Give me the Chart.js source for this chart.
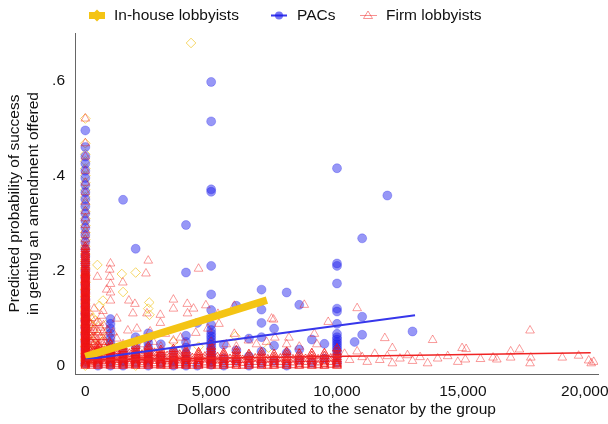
<!DOCTYPE html>
<html><head><meta charset="utf-8">
<script src="https://cdn.jsdelivr.net/npm/chart.js@4/dist/chart.umd.min.js"></script>
<style>html,body{margin:0;padding:0;background:#fff;}#wrap{width:608px;height:424px;}</style>
</head><body><div id="wrap"><canvas id="c" width="608" height="424"></canvas></div>
<script>
// ---------------- DATA ----------------
const seriesNames = ['In-house lobbyists', 'PACs', 'Firm lobbyists'];
const xTickValues = [0, 5000, 10000, 15000, 20000];
const xTickLabels = ['0', '5,000', '10,000', '15,000', '20,000'];
const yTickValues = [0, 0.2, 0.4, 0.6];
const yTickLabels = ['0', '.2', '.4', '.6'];
const xTitle = 'Dollars contributed to the senator by the group';
const yTitle = ['Predicted probability of success', 'in getting an amendment offered'];

// In-house lobbyists (diamonds)
const inHouseZeroY = [0.52,0.468,0.445,0.43,0.415,0.4,0.385,0.37,0.355,0.34,0.325,0.31,0.295,0.28,0.265,0.25,0.235,0.22,0.205,0.19,0.175,0.16,0.145,0.13,0.115,0.1,0.085,0.07,0.055,0.04,0.025,0.01,0];
const inHousePoints = [[4200,0.679],[480,0.212],[1450,0.193],[2000,0.196],[1500,0.155],[700,0.137],[560,0.126],[2540,0.133],[2500,0.12],[2550,0.107],[400,0.095],[300,0.075],[500,0.062],[250,0.05],[800,0.085],[1000,0.045],[150,0.11],[200,0.088],[5960,0.062],[7280,0.038],[3000,0.022],[1200,0.03],[600,0.028],[2000,0.015],[1500,0.01],[4000,0.012],[100,0.035],[350,0.042],[5000,0.008],[2500,0.032],[6500,0.02],[3500,0.05],[4500,0.04],[150,0.02],[250,0.015],[400,0.01],[1000,0.005],[2000,0],[3000,0.005],[700,0.05],[900,0.065],[100,0.06],[300,0.1]];
const inHouseFitX = [0, 7215];
const inHouseFitY = [0.019, 0.138];

// PACs (circles)
const pacZeroY = [0.495,0.46,0.44,0.425,0.41,0.395,0.38,0.365,0.35,0.335,0.32,0.305,0.29,0.275,0.26,0.245,0.23,0.215,0.2,0.185,0.17,0.155,0.14,0.125,0.11,0.095,0.08,0.065,0.05,0.035,0.02,0.005];
const pacColumns = [
  [500, [0.02, 0]],
  [1000, [0.098,0.088,0.078,0.068,0.058,0.048,0.038,0.028,0.018,0.008,0]],
  [1500, [0.349,0.03,0.01,0]],
  [2000, [0.246,0.06,0.04,0.02,0.005]],
  [2500, [0.068,0.058,0.048,0.038,0.025,0.012,0]],
  [3000, [0.045,0.02,0.005]],
  [3500, [0.03,0.01,0]],
  [4000, [0.296,0.196,0.063,0.05,0.038,0.025,0.012,0]],
  [4450, [0.09,0]],
  [5000, [0.597,0.514,0.371,0.366,0.21,0.15,0.117,0.086,0.075,0.068,0.062,0.056,0.05,0.044,0.038,0.032,0.026,0.02,0.014,0.008,0.002]],
  [5500, [0.044,0.015,0]],
  [6000, [0.126,0.032,0.01]],
  [6500, [0.057,0.02,0]],
  [7000, [0.16,0.118,0.09,0.06,0.03,0.005]],
  [7500, [0.078,0.042,0.01]],
  [8000, [0.154,0.027,0]],
  [8500, [0.128,0.034,0.012]],
  [9000, [0.055,0.006]],
  [9500, [0.046,0.015]],
  [10000, [0.4155,0.215,0.21,0.173,0.12,0.114,0.088,0.067,0.06,0.055,0.05,0.045,0.04,0.035,0.03,0.02,0.006]],
  [10700, [0.05]],
  [11000, [0.268,0.103,0.065]],
  [12000, [0.358]],
  [13000, [0.072]]
];
const pacFitX = [0, 13100];
const pacFitY = [0.013, 0.106];

// Firm lobbyists (triangles)
// zero-dollar column: the dense lower part (each listed value stands for firmZeroCount firms) and the sparse upper part
const firmZeroCount = 3;
const firmZeroDenseY = [0,0.0025,0.005,0.0075,0.01,0.0125,0.015,0.0175,0.02,0.0225,0.025,0.0275,0.03,0.0325,0.035,0.0375,0.04,0.0425,0.045,0.0475,0.05,0.0525,0.055,0.0575,0.06,0.0625,0.065,0.0675,0.07,0.0725,0.075,0.0775,0.08,0.0825,0.085,0.0875,0.09,0.0925,0.095,0.0975,0.1,0.1025,0.105,0.1075,0.11,0.1125,0.115,0.1175,0.12,0.1225,0.125,0.1275,0.13,0.1325,0.135,0.1375,0.14,0.1425,0.145,0.1475,0.15,0.1525,0.155,0.1575,0.16,0.1625,0.165,0.1675,0.17,0.1725,0.175,0.1775,0.18,0.1825,0.185,0.1875,0.19,0.1925,0.195,0.1975,0.2,0.204,0.208,0.212,0.216,0.22,0.224,0.228,0.232,0.236,0.24,0.245,0.25];
const firmZeroSparseY = [0.258,0.266,0.275,0.285,0.296,0.31,0.325,0.345,0.365,0.385,0.41,0.44,0.468,0.52];
// [dollars, count of firms per listed value, predicted values]
const firmBandColumns = [
  [250, 2, [0,0.004,0.008,0.012,0.017,0.022,0.027,0.033]],
  [500, 3, [0,0.003,0.006,0.009,0.012,0.015,0.018,0.021,0.024,0.028,0.032,0.036,0.042]],
  [750, 2, [0.001,0.005,0.009,0.013,0.018,0.023,0.029]],
  [1000, 3, [0,0.003,0.006,0.009,0.012,0.015,0.018,0.021,0.025,0.029,0.033,0.038,0.044]],
  [1250, 2, [0,0.004,0.008,0.012,0.016,0.021,0.026,0.031]],
  [1500, 3, [0,0.003,0.006,0.009,0.012,0.015,0.018,0.022,0.026,0.03,0.035,0.04]],
  [1750, 2, [0.001,0.005,0.009,0.014,0.019,0.025]],
  [2000, 3, [0,0.003,0.006,0.009,0.012,0.015,0.019,0.023,0.027,0.031,0.036,0.041]],
  [2250, 2, [0,0.004,0.008,0.012,0.017,0.023]],
  [2500, 3, [0,0.003,0.006,0.009,0.012,0.015,0.018,0.022,0.026,0.03,0.035,0.04]],
  [2750, 2, [0.001,0.005,0.01,0.015,0.021,0.027]],
  [3000, 3, [0,0.003,0.006,0.009,0.012,0.016,0.02,0.024,0.028,0.033]],
  [3250, 2, [0,0.004,0.009,0.014,0.02]],
  [3500, 3, [0,0.003,0.006,0.009,0.013,0.017,0.021,0.025,0.03,0.035]],
  [3750, 2, [0.001,0.006,0.011,0.017,0.023]],
  [4000, 3, [0,0.003,0.006,0.01,0.014,0.018,0.022,0.027,0.032]],
  [4250, 2, [0,0.005,0.01,0.016]],
  [4500, 3, [0,0.003,0.006,0.01,0.014,0.018,0.023,0.028]],
  [4750, 2, [0.002,0.007,0.013,0.019]],
  [5000, 3, [0,0.003,0.006,0.009,0.012,0.016,0.02,0.024,0.029,0.034,0.04]],
  [5250, 2, [0,0.005,0.011,0.018]],
  [5500, 3, [0,0.004,0.008,0.012,0.017,0.022,0.027]],
  [5750, 2, [0.002,0.008,0.014]],
  [6000, 3, [0,0.004,0.008,0.012,0.016,0.021,0.026,0.032]],
  [6250, 2, [0,0.006,0.012]],
  [6500, 3, [0,0.004,0.008,0.013,0.018,0.024]],
  [6750, 2, [0.002,0.008,0.015]],
  [7000, 3, [0,0.004,0.008,0.012,0.017,0.022,0.028]],
  [7250, 2, [0,0.006,0.013]],
  [7500, 3, [0,0.004,0.008,0.013,0.018,0.024]],
  [7750, 2, [0.002,0.008,0.015]],
  [8000, 3, [0,0.004,0.008,0.012,0.017,0.023,0.029]],
  [8250, 2, [0.001,0.007,0.013]],
  [8500, 3, [0,0.004,0.009,0.014,0.019,0.025]],
  [8750, 2, [0.002,0.008,0.014]],
  [9000, 3, [0,0.004,0.009,0.014,0.02,0.026]],
  [9250, 2, [0.001,0.007,0.013]],
  [9500, 3, [0,0.004,0.009,0.014,0.02,0.026]],
  [9750, 2, [0.002,0.008,0.015]],
  [10000, 3, [0,0.003,0.006,0.01,0.014,0.018,0.023,0.029,0.036]]
];
const firmPoints = [[150,0.09],[250,0.07],[350,0.06],[200,0.05],[400,0.04],[300,0.03],[100,0.025],[450,0.02],[200,0.015],[300,0.01],[150,0.005],[600,0.08],[350,0.12],[700,0.115],[850,0.16],
  [100,0.01],[100,0.05],[100,0.08],[200,0.03],[200,0.065],[250,0.1],[300,0.045],[300,0.085],[400,0.02],[400,0.06],[450,0.075],[500,0.01],[500,0.045],[550,0.03],[600,0.015],[650,0.05],[700,0.025],[700,0.07],[750,0.04],[800,0.01],[850,0.06],[900,0.03],
  [50,0.03],[50,0.06],[80,0.1],[120,0.04],[120,0.07],[180,0.02],[180,0.055],[220,0.08],[260,0.035],[280,0.06],[320,0.015],[340,0.075],[380,0.05],[420,0.03],[450,0.09],[480,0.055],[520,0.07],[580,0.04],[620,0.025],[680,0.06],[720,0.085],[780,0.05],[820,0.035],[880,0.075],[950,0.05],
  [1000,0.215],[970,0.202],[970,0.187],[480,0.187],[2500,0.221],[2410,0.194],[1000,0.172],[1490,0.175],[1000,0.154],[1000,0.137],[1730,0.137],[1970,0.13],[3500,0.139],[3500,0.12],[4050,0.13],[4060,0.11],[2980,0.107],[2450,0.11],[1890,0.11],[640,0.105],[1250,0.099],[560,0.09],[2980,0.09],[2050,0.078],[1690,0.074],[2575,0.072],[3180,0.067],[3780,0.059],[4390,0.069],[3500,0.053],[2050,0.053],[1250,0.057],
  [4500,0.204],[4300,0.12],[4790,0.127],[5270,0.109],[5920,0.126],[7400,0.099],[8090,0.059],[8700,0.128],[5920,0.067],[4870,0.078],[6480,0.053],[7530,0.059],[5310,0.088],[7480,0.097],[9100,0.067],[9650,0.092],[10800,0.121],[11900,0.058],[12200,0.037],[13800,0.054],[14970,0.037],
  [2300,0.045],[3000,0.04],[4000,0.045],[5000,0.05],[5600,0.045],[6000,0.04],[6800,0.045],[7200,0.05],[8000,0.045],[8500,0.04],[9200,0.045],[1500,0.045],[2700,0.05],[800,0.045],[600,0.06],[1100,0.07],
  [10300,0.025],[10500,0.012],[10800,0.03],[11000,0.018],[11200,0.008],[11500,0.025],[11700,0.012],[12000,0.02],[12200,0.005],[12500,0.015],[12800,0.022],[13000,0.01],[13300,0.018],[13600,0.005],[14000,0.015],[14400,0.02],[14800,0.008],
  [15130,0.035],[15100,0.013],[15700,0.014],[16200,0.017],[16350,0.013],[16900,0.03],[16900,0.017],[17250,0.034],[17670,0.074],[17700,0.017],[17670,0.005],[18950,0.017],[19600,0.021],[20000,0.011],[20100,0.005],[20200,0.008]];
const firmFitX = [0, 20080];
const firmFitY = [0.012, 0.027];

// ---------------- BUILD ----------------
const FONT = '"Liberation Sans", Arial, Helvetica, sans-serif';
const toPts = (zeroY, pairs, cols, zeroCount) => {
  const out = [];
  for (let k = 0; k < (zeroCount || 1); k++) zeroY.forEach(y => out.push({x: 0, y}));
  (pairs || []).forEach(p => out.push({x: p[0], y: p[1]}));
  (cols || []).forEach(c => {
    const ys = Array.isArray(c[1]) ? c[1] : c[2];
    const n = Array.isArray(c[1]) ? 1 : c[1];
    for (let k = 0; k < n; k++) ys.forEach(y => out.push({x: c[0], y}));
  });
  return out;
};
const fit = (xs, ys) => xs.map((x, i) => ({x, y: ys[i]}));
const firmData = toPts(firmZeroDenseY, firmPoints, firmBandColumns, firmZeroCount)
  .concat(firmZeroSparseY.map(y => ({x: 0, y})));

const colors = {
  inHouse: {line: 'rgb(244,196,20)', mark: 'rgba(238,188,0,0.6)'},
  pac: {line: 'rgb(55,55,235)', fill: 'rgba(25,25,235,0.45)', mark: 'rgba(25,25,235,0.45)'},
  firm: {line: 'rgb(240,35,35)', mark: 'rgba(240,20,20,0.42)'}
};

const legendPlugin = {
  id: 'stataLegend',
  afterDraw(chart) {
    const ctx = chart.ctx;
    const cy = 15.5;
    const items = [
      {sx: 89, tx: 114, kind: 'inHouse'},
      {sx: 271, tx: 297, kind: 'pac'},
      {sx: 360, tx: 386, kind: 'firm'}
    ];
    ctx.save();
    items.forEach((it, i) => {
      const cx = it.sx + 8;
      if (it.kind === 'inHouse') {
        ctx.strokeStyle = colors.inHouse.line; ctx.lineWidth = 7;
        ctx.beginPath(); ctx.moveTo(it.sx, cy); ctx.lineTo(it.sx + 16, cy); ctx.stroke();
        ctx.fillStyle = colors.inHouse.line;
        ctx.beginPath(); ctx.moveTo(cx, cy - 6); ctx.lineTo(cx + 6, cy); ctx.lineTo(cx, cy + 6); ctx.lineTo(cx - 6, cy); ctx.closePath(); ctx.fill();
      } else if (it.kind === 'pac') {
        ctx.strokeStyle = colors.pac.line; ctx.lineWidth = 2;
        ctx.beginPath(); ctx.moveTo(it.sx, cy); ctx.lineTo(it.sx + 16, cy); ctx.stroke();
        ctx.fillStyle = 'rgba(25,25,235,0.6)';
        ctx.beginPath(); ctx.arc(cx, cy, 4, 0, Math.PI * 2); ctx.fill();
      } else {
        ctx.strokeStyle = 'rgba(240,35,35,0.5)'; ctx.lineWidth = 1;
        ctx.beginPath(); ctx.moveTo(it.sx, cy); ctx.lineTo(it.sx + 17, cy); ctx.stroke();
        ctx.strokeStyle = 'rgba(240,20,20,0.45)';
        ctx.beginPath(); ctx.moveTo(cx, cy - 4.5); ctx.lineTo(cx + 4.5, cy + 3); ctx.lineTo(cx - 4.5, cy + 3); ctx.closePath(); ctx.stroke();
      }
      ctx.fillStyle = '#111';
      ctx.font = '15.5px ' + FONT;
      ctx.textBaseline = 'middle';
      ctx.textAlign = 'left';
      ctx.fillText(seriesNames[i], it.tx, cy);
    });
    ctx.restore();
  }
};

new Chart(document.getElementById('c'), {
  type: 'scatter',
  data: {
    datasets: [
      {label: seriesNames[0] + ' fit', data: fit(inHouseFitX, inHouseFitY), showLine: true, borderColor: colors.inHouse.line, borderWidth: 7.5, pointRadius: 0, order: 3, borderCapStyle: 'butt'},
      {label: seriesNames[1] + ' fit', data: fit(pacFitX, pacFitY), showLine: true, borderColor: colors.pac.line, borderWidth: 2, pointRadius: 0, order: 2},
      {label: seriesNames[2] + ' fit', data: fit(firmFitX, firmFitY), showLine: true, borderColor: colors.firm.line, borderWidth: 1.5, pointRadius: 0, order: 1},
      {label: seriesNames[0], data: toPts(inHouseZeroY, inHousePoints), pointStyle: 'rectRot', pointRadius: 4.8, backgroundColor: 'rgba(0,0,0,0)', borderColor: colors.inHouse.mark, borderWidth: 1, order: 6},
      {label: seriesNames[1], data: toPts(pacZeroY, null, pacColumns), pointStyle: 'circle', pointRadius: 4.5, backgroundColor: colors.pac.fill, borderColor: colors.pac.mark, borderWidth: 0.6, order: 5},
      {label: seriesNames[2], data: firmData, pointStyle: 'triangle', pointRadius: 5, backgroundColor: 'rgba(0,0,0,0)', borderColor: colors.firm.mark, borderWidth: 1, order: 4}
    ]
  },
  options: {
    responsive: false,
    animation: false,
    devicePixelRatio: 1,
    layout: {padding: {top: 33, right: 10, left: 0, bottom: 0}},
    plugins: {legend: {display: false}, tooltip: {enabled: false}},
    scales: {
      x: {
        type: 'linear', min: -410, max: 20370,
        grid: {display: false, drawTicks: false},
        border: {display: true, color: '#666', width: 1},
        afterBuildTicks: s => { s.ticks = xTickValues.map(v => ({value: v})); },
        afterFit: s => { s.height = 50; s.paddingLeft = 0; s.paddingRight = 0; },
        ticks: {
          autoSkip: false, maxRotation: 0, padding: 8, color: '#111',
          font: {family: FONT, size: 15.5},
          callback: (v) => { const i = xTickValues.indexOf(v); return i === xTickLabels.length - 1 ? xTickLabels[i] + '\u2002' : xTickLabels[i]; }
        },
        title: {display: true, text: xTitle, color: '#111', font: {family: FONT, size: 15.5, lineHeight: 1.2}, padding: {top: 0, bottom: 4.7}}
      },
      y: {
        type: 'linear', min: -0.0175, max: 0.70,
        grid: {display: false, drawTicks: false},
        border: {display: true, color: '#666', width: 1},
        afterBuildTicks: s => { s.ticks = yTickValues.map(v => ({value: v})); },
        afterFit: s => { s.width = 75; s.paddingTop = 0; s.paddingBottom = 0; },
        ticks: {
          padding: 10, color: '#111',
          font: {family: FONT, size: 15.5},
          callback: (v) => yTickLabels[yTickValues.indexOf(v)]
        },
        title: {display: true, text: yTitle, color: '#111', font: {family: FONT, size: 15.5, lineHeight: 1.2}, padding: {top: 5.7, bottom: 0}}
      }
    }
  },
  plugins: [legendPlugin]
});
</script></body></html>
